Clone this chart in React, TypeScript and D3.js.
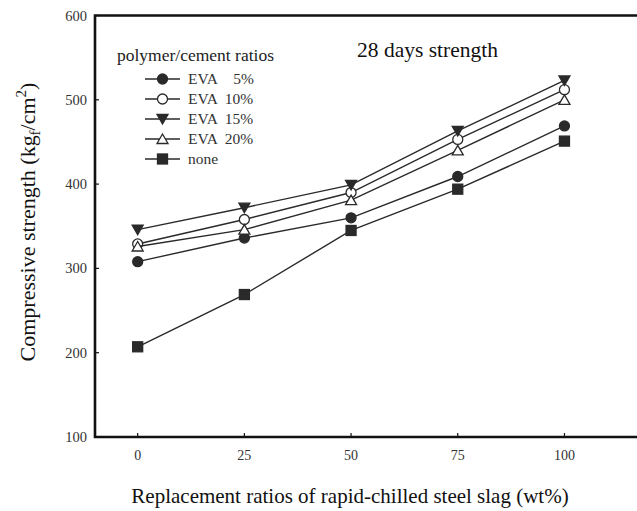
import React from 'react';
import * as d3 from 'd3';

const ratios = [0, 25, 50, 75, 100];
const eva5 = [308, 336, 360, 409, 469];
const eva10 = [329, 358, 390, 453, 512];
const eva15 = [346, 372, 399, 463, 523];
const eva20 = [326, 346, 381, 440, 500];
const none = [207, 269, 345, 394, 451];
const yTicks = [100, 200, 300, 400, 500, 600];

const series = [
  { name: 'EVA\u00a0\u00a0\u00a0 5%', values: eva5, shape: 'circle', fill: true },
  { name: 'EVA  10%', values: eva10, shape: 'circle', fill: false },
  { name: 'EVA  15%', values: eva15, shape: 'down', fill: true },
  { name: 'EVA  20%', values: eva20, shape: 'up', fill: false },
  { name: 'none', values: none, shape: 'square', fill: true },
];

const W = 637, H = 511;
const font = '"Liberation Serif", "Times New Roman", serif';
const ink = '#2a2a2a';

const Marker = ({ shape, fill, x, y }: any) => {
  const f = fill ? ink : 'white';
  const common = { fill: f, stroke: ink, strokeWidth: 1.3 };
  if (shape === 'circle') return <circle cx={x} cy={y} r={5} {...common} />;
  if (shape === 'square') return <rect x={x - 5} y={y - 5} width={10} height={10} {...common} />;
  if (shape === 'down')
    return <path d={`M${x - 5.5},${y - 4.5}L${x + 5.5},${y - 4.5}L${x},${y + 5}Z`} {...common} />;
  return <path d={`M${x - 5.5},${y + 4.5}L${x + 5.5},${y + 4.5}L${x},${y - 5}Z`} {...common} />;
};

const App = () => {
  const x = d3.scaleLinear().domain([-10, 117]).range([95, 637]);
  const y = d3.scaleLinear().domain([100, 600]).range([437, 15.5]);
  const line = d3.line<number>().x((_, i) => x(ratios[i])).y((d) => y(d));

  return (
    <svg width={W} height={H} style={{ position: 'absolute', left: 0, top: 0, background: 'white' }}>
      {/* axes frame, cut on the right like the scan */}
      <path d={`M${W + 5},${y(600)}H${x(-10)}V${y(100)}H${W + 5}`} fill="none" stroke="#111" strokeWidth={2.6} />
      {ratios.map((r) => (
        <g key={r}>
          <line x1={x(r)} x2={x(r)} y1={y(100)} y2={y(100) - 4} stroke="#111" strokeWidth={1.2} />
          <text x={x(r)} y={460} textAnchor="middle" fontFamily={font} fontSize={14} fill="#333">{r}</text>
        </g>
      ))}
      {yTicks.map((t) => (
        <g key={t}>
          <line x1={x(-10)} x2={x(-10) + 4} y1={y(t)} y2={y(t)} stroke="#111" strokeWidth={1.2} />
          <text x={87} y={y(t) + 5} textAnchor="end" fontFamily={font} fontSize={14.5} fill="#333">{t}</text>
        </g>
      ))}
      {series.map((s) => (
        <g key={s.name}>
          <path d={line(s.values) || ''} fill="none" stroke={ink} strokeWidth={1.4} />
          {s.values.map((v, i) => (
            <Marker key={i} shape={s.shape} fill={s.fill} x={x(ratios[i])} y={y(v)} />
          ))}
        </g>
      ))}
      <text x={357} y={57} fontFamily={font} fontSize={21.5} fill="#111">28 days strength</text>
      <text x={117} y={61} fontFamily={font} fontSize={17.5} fill="#222">polymer/cement ratios</text>
      {series.map((s, i) => {
        const cy = 79 + i * 20;
        return (
          <g key={s.name}>
            <line x1={145} x2={180} y1={cy} y2={cy} stroke={ink} strokeWidth={1.4} />
            <Marker shape={s.shape} fill={s.fill} x={162.5} y={cy} />
            <text x={188} y={cy + 5} fontFamily={font} fontSize={15.5} fill="#333" style={{ whiteSpace: 'pre' }}>{s.name}</text>
          </g>
        );
      })}
      <text transform={`translate(35,222) rotate(-90)`} textAnchor="middle" fontFamily={font} fontSize={22} fill="#111">
        Compressive strength (kg<tspan fontSize={15} dy={5}>f</tspan><tspan dy={-5}>/cm</tspan><tspan fontSize={15} dy={-9}>2</tspan><tspan dy={9}>)</tspan>
      </text>
      <text x={350} y={503} textAnchor="middle" fontFamily={font} fontSize={21} fill="#111">
        Replacement ratios of rapid-chilled steel slag (wt%)
      </text>
    </svg>
  );
};

export default App;
